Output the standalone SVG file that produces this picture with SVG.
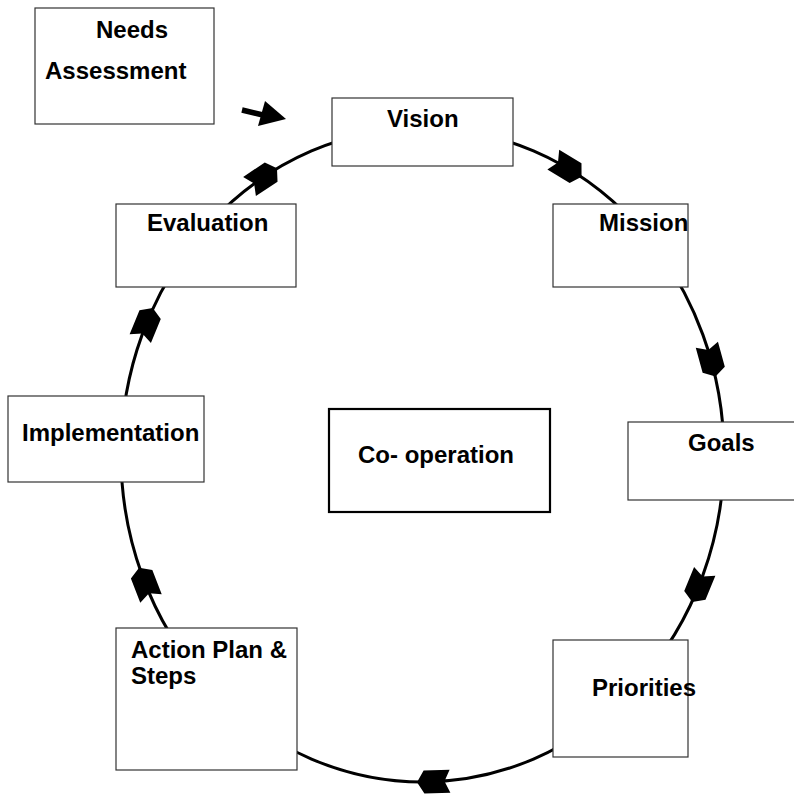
<svg xmlns="http://www.w3.org/2000/svg" xmlns:xlink="http://www.w3.org/1999/xlink" width="794" height="798" viewBox="0 0 794 798">
<style>
.box{fill:#fff;stroke:#333;stroke-width:1.2}
.box2{fill:#fff;stroke:#000;stroke-width:2.2}
.lbl{font-family:"Liberation Sans",Arial,sans-serif;font-weight:bold;font-size:24px;fill:#000}
.ring{fill:none;stroke:#000;stroke-width:3}
</style>
<defs>
<polygon id="ah" points="15,0 8,-11.5 -18,-11.5 -12.5,0 -18,11.5 8,11.5" fill="#000"/>
</defs>
<rect width="794" height="798" fill="#fff"/>
<g id="connectors">
<ellipse class="ring" cx="422.5" cy="455" rx="301.5" ry="327"/>
<use xlink:href="#ah" transform="translate(568.7,169) rotate(31)"/>
<use xlink:href="#ah" transform="translate(711.6,362.1) rotate(74.7)"/>
<use xlink:href="#ah" transform="translate(697.9,588) rotate(112.3)"/>
<use xlink:href="#ah" transform="translate(432,781.8) rotate(178)"/>
<use xlink:href="#ah" transform="translate(144.5,581.7) rotate(-111.2)"/>
<use xlink:href="#ah" transform="translate(147.1,322) rotate(-67.7)"/>
<use xlink:href="#ah" transform="translate(264.5,176.5) rotate(-33.7)"/>
<line x1="242" y1="110" x2="265" y2="115.5" stroke="#000" stroke-width="5.5"/>
<polygon points="265,101 286,119 258,126" fill="#000"/>
</g>
<g id="needs"><rect class="box" x="35" y="8" width="179" height="116"/><text class="lbl" x="96" y="38">Needs</text><text class="lbl" x="45" y="79">Assessment</text></g>
<g id="vision"><rect class="box" x="332" y="98" width="181" height="68"/><text class="lbl" x="387" y="127">Vision</text></g>
<g id="evaluation"><rect class="box" x="116" y="204" width="180" height="83"/><text class="lbl" x="147" y="231">Evaluation</text></g>
<g id="mission"><rect class="box" x="553" y="204" width="135" height="83"/><text class="lbl" x="599" y="231">Mission</text></g>
<g id="implementation"><rect class="box" x="8" y="396" width="196" height="86"/><text class="lbl" x="22" y="441">Implementation</text></g>
<g id="cooperation"><rect class="box2" x="329" y="409" width="221" height="103"/><text class="lbl" x="358" y="463">Co- operation</text></g>
<g id="goals"><rect class="box" x="628" y="422" width="172" height="78"/><text class="lbl" x="688" y="451">Goals</text></g>
<g id="actionplan"><rect class="box" x="116" y="628" width="181" height="142"/><text class="lbl" x="131" y="658">Action Plan &amp;</text><text class="lbl" x="131" y="684">Steps</text></g>
<g id="priorities"><rect class="box" x="553" y="640" width="135" height="117"/><text class="lbl" x="592" y="696">Priorities</text></g>
</svg>
